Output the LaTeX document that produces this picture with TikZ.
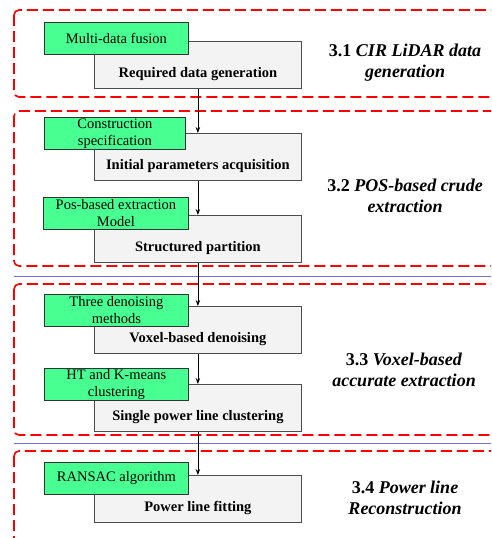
\documentclass[tikz,border=0pt]{standalone}
\usepackage{fontspec}
\setmainfont{Liberation Serif}
\usepackage{tikz}
\usetikzlibrary{arrows.meta, positioning, calc}

\definecolor{stepgreen}{RGB}{72,255,145}
\definecolor{stepgray}{RGB}{243,243,243}
\definecolor{sepblue}{RGB}{112,112,222}

\begin{document}
\begin{tikzpicture}[
        x=1pt, y=-1pt,
        >={Stealth[length=6pt, width=4.5pt]},
        taskbox/.style={draw=black!70, line width=0.8pt, fill=stepgray,
            minimum width=207pt, inner sep=0pt, text height=36pt, text depth=11pt,
            font=\fontsize{14.5}{16}\selectfont\bfseries, anchor=north west},
        methodbox/.style={draw=black!80, line width=0.8pt, fill=stepgreen,
            minimum width=144pt, minimum height=32pt, inner sep=0pt,
            align=center, font=\fontsize{14.5}{17}\selectfont, anchor=north west},
        stage/.style={draw=red, line width=1.6pt, dash pattern=on 11pt off 5pt,
            rounded corners=5pt},
        divider/.style={draw=sepblue, line width=1pt},
        stagetitle/.style={align=center, font=\fontsize{18}{21}\selectfont\bfseries},
        line/.style={draw, line width=0.8pt, ->},
    ]
    \clip (0,0) rectangle (491,538);
    \fill[white] (0,0) rectangle (491,538);

    % 1. Stage containers
    \draw[stage] (14,10) rectangle (505,97);
    \draw[stage] (14,111) rectangle (505,266);
    \draw[divider] (14,276) -- (491,276);
    \draw[stage] (14,284) rectangle (505,435);
    \draw[divider] (14,443) -- (491,443);
    \draw[stage] (14,451) rectangle (505,545);

    % 2. Main tasks (grey)
    \node[taskbox] (gen) at (94,41) {Required data generation};
    \node[taskbox] (init) at (94,133) {Initial parameters acquisition};
    \node[taskbox] (part) at (94,215) {Structured partition};
    \node[taskbox] (denoise) at (94,306) {Voxel-based denoising};
    \node[taskbox] (cluster) at (94,384) {Single power line clustering};
    \node[taskbox] (fit) at (94,475) {Power line fitting};

    % 3. Methods (green)
    \node[methodbox] (fusion) at (44,22) {Multi-data fusion};
    \node[methodbox, minimum width=141pt] (spec) at (44,117)
        {Construction\\specification};
    \node[methodbox, minimum width=145pt] (posmodel) at (43,197)
        {Pos-based extraction\\Model};
    \node[methodbox] (threeden) at (44,294) {Three denoising\\methods};
    \node[methodbox] (htkm) at (44,368) {HT and K-means\\clustering};
    \node[methodbox] (ransac) at (44,462) {RANSAC algorithm};

    % 4. Stage titles
    \node[stagetitle] (t31) at (405,63) {3.1 \textit{CIR LiDAR data}\\\textit{generation}};
    \node[stagetitle] (t32) at (405,196) {3.2 \textit{POS-based crude}\\\textit{extraction}};
    \node[stagetitle] (t33) at (404,370) {3.3 \textit{Voxel-based}\\\textit{accurate extraction}};
    \node[stagetitle] (t34) at (405,498) {3.4 \textit{Power line}\\\textit{Reconstruction}};

    % --- Arrows ---
    \path[line] (gen.south) -- (init.north);
    \path[line] (init.south) -- (part.north);
    \path[line] (part.south) -- (denoise.north);
    \path[line] (denoise.south) -- (cluster.north);
    \path[line] (cluster.south) -- (fit.north);

\end{tikzpicture}
\end{document}
